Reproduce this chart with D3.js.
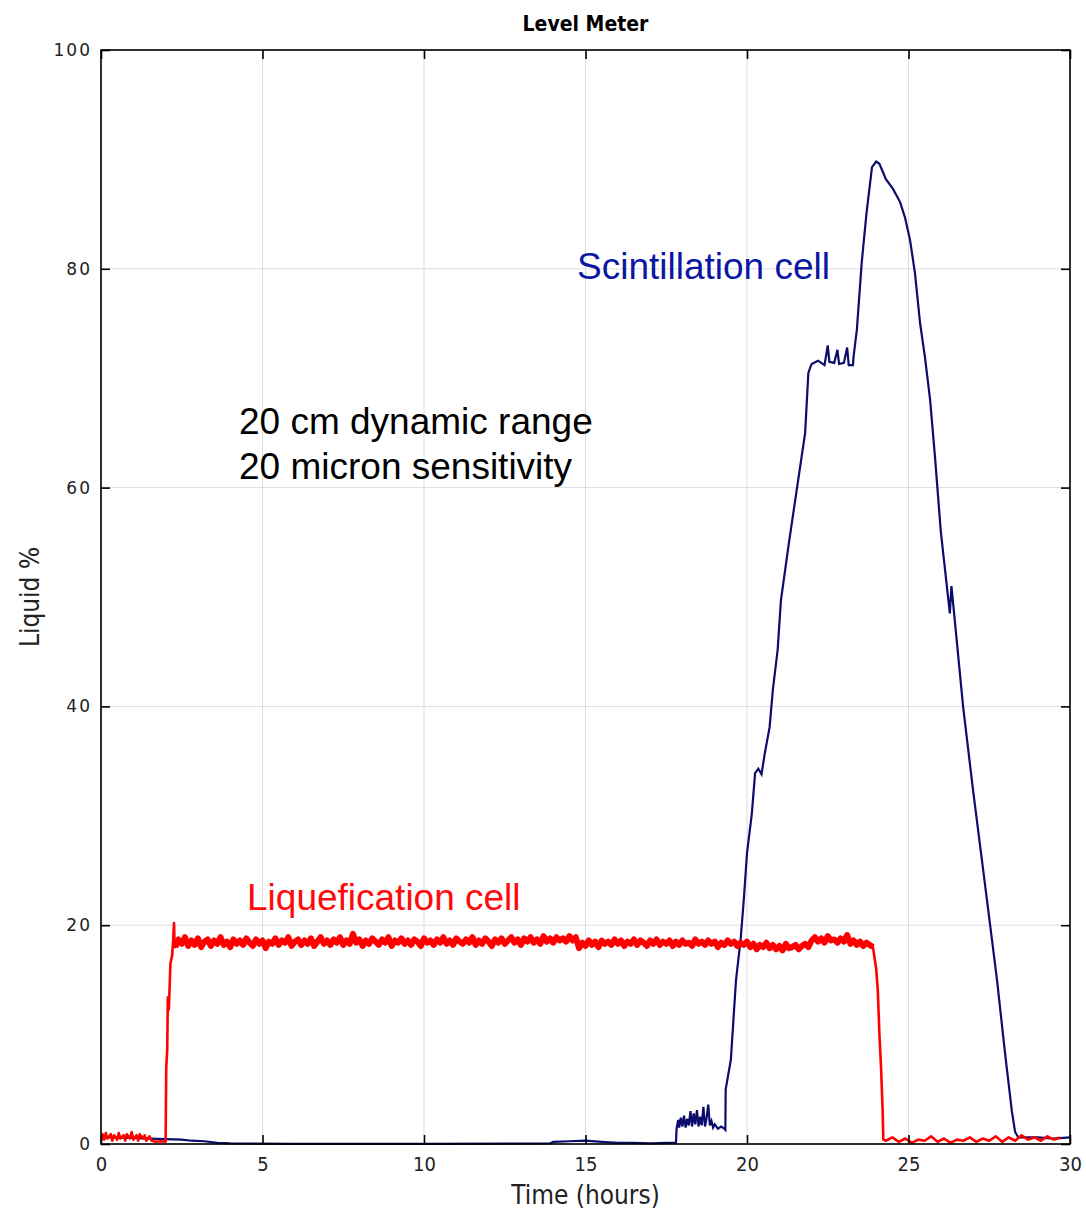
<!DOCTYPE html>
<html>
<head>
<meta charset="utf-8">
<script src="https://cdn.jsdelivr.net/npm/d3@7"></script>
<style>
  body { margin: 0; background: #fff; }
  .grid line { stroke: #dddddd; stroke-width: 1; }
  .tick-y text { font-family: "DejaVu Sans", sans-serif; font-size: 17px; fill: #222; }
  .tick-x text { font-family: "DejaVu Sans Condensed", "DejaVu Sans", sans-serif; font-size: 20px; fill: #222; }
  .note { font-family: "Liberation Sans", Arial, sans-serif; font-size: 37px; }
</style>
</head>
<body>
<svg width="1086" height="1213"></svg>
<script>
// x ticks and y ticks
var xTicks = [0, 5, 10, 15, 20, 25, 30];
var yTicks = [0, 20, 40, 60, 80, 100];

// scintillation cell level, [hours, %]
var scint = [
  [0, 0.6], [0.5, 0.6], [1, 0.55], [1.5, 0.5], [2, 0.45], [2.5, 0.4], [2.8, 0.3], [3.2, 0.25],
  [3.6, 0.1], [4, 0.05], [6, 0.02], [10, 0.02], [13.9, 0.05], [14, 0.2], [14.5, 0.25], [15, 0.3],
  [15.5, 0.2], [16, 0.1], [16.5, 0.1], [17, 0.05], [17.5, 0.1], [17.8, 0.1], [17.82, 1.4],
  [17.87, 2.2], [17.9, 1.5], [17.95, 2.4], [18.0, 1.6], [18.05, 2.6], [18.1, 1.5], [18.15, 2.3],
  [18.2, 1.7], [18.25, 3.0], [18.3, 1.6], [18.35, 2.8], [18.4, 1.8], [18.45, 3.1], [18.5, 1.6],
  [18.55, 2.5], [18.6, 1.7], [18.65, 3.4], [18.7, 1.6], [18.75, 2.4], [18.8, 3.6], [18.85, 1.7],
  [18.9, 2.1], [18.95, 1.5], [19.0, 1.8], [19.1, 1.4], [19.2, 1.6], [19.3, 1.4], [19.33, 1.3],
  [19.34, 5], [19.5, 7.7], [19.66, 15], [19.8, 18.6],
  [19.9, 22.3], [20.0, 26.6], [20.15, 30.2], [20.25, 33.9], [20.35, 34.3], [20.45, 33.8],
  [20.55, 35.7], [20.7, 38.1], [20.8, 41.5], [20.95, 45.2], [21.05, 49.7], [21.3, 55], [21.5, 59],
  [21.8, 65], [21.9, 70.5], [22.0, 71.3], [22.2, 71.6], [22.4, 71.2], [22.5, 73.0], [22.55, 71.5],
  [22.7, 71.4], [22.8, 72.6], [22.85, 71.3], [23.0, 71.4], [23.1, 72.8], [23.15, 71.2], [23.28, 71.2],
  [23.3, 72], [23.4, 74.4], [23.55, 80.5], [23.7, 85.1], [23.87, 89.3], [24.0, 89.8], [24.1, 89.6],
  [24.3, 88.2], [24.52, 87.3], [24.74, 86.1], [24.89, 84.7], [25.05, 82.6], [25.2, 79.6],
  [25.36, 75], [25.51, 71.9], [25.67, 68], [25.82, 62.8], [26.0, 56], [26.28, 48.5], [26.33, 51],
  [26.69, 40], [27.0, 32.3], [27.43, 22.3], [27.74, 15], [28.0, 8], [28.2, 3], [28.3, 1.1],
  [28.4, 0.6], [29, 0.6], [29.5, 0.5], [30, 0.6]
];

// liquefication cell: start-up section, [hours, %]
var liqStart = [
  [0, 0.3], [0.05, 0.9], [0.1, 0.4], [0.15, 1.0], [0.2, 0.5], [0.3, 0.9], [0.35, 0.3], [0.4, 0.8],
  [0.5, 0.4], [0.55, 1.0], [0.6, 0.5], [0.7, 0.8], [0.75, 0.3], [0.8, 0.9], [0.9, 0.5], [0.95, 1.1],
  [1.0, 0.4], [1.1, 0.8], [1.15, 0.3], [1.2, 0.9], [1.3, 0.5], [1.35, 0.8], [1.4, 0.3], [1.5, 0.7],
  [1.57, 0.3], [1.7, 0.2], [1.85, 0.25], [2.0, 0.2], [2.02, 7], [2.05, 8.6], [2.07, 13.4],
  [2.1, 12.3], [2.15, 16.5], [2.2, 17.2], [2.23, 18.4], [2.26, 20.2], [2.28, 18.1]
];

// liquefication cell plateau, sampled every 0.1 h from 2.3 h
var liqPlateauStart = 2.3, liqPlateauStep = 0.1;
var liqPlateau = [
  18.0, 18.7, 18.3, 18.9, 18.1, 18.6, 18.2, 18.8, 18.0, 18.5,
  18.7, 18.1, 18.6, 18.3, 18.9, 18.2, 18.5, 18.0, 18.7, 18.3,
  18.6, 18.2, 18.8, 18.4, 18.1, 18.7, 18.3, 18.6, 17.9, 18.5,
  18.3, 18.8, 18.2, 18.6, 18.4, 18.9, 18.1, 18.5, 18.7, 18.2,
  18.6, 18.3, 18.8, 18.1, 18.5, 18.9, 18.3, 18.6, 18.2, 18.7,
  18.4, 18.9, 18.2, 18.6, 18.3, 19.2, 18.4, 18.7, 18.1, 18.6,
  18.3, 18.8, 18.5, 18.2, 18.7, 18.4, 18.9, 18.1, 18.6, 18.4,
  18.8, 18.3, 18.6, 18.2, 18.7, 18.5, 18.1, 18.8, 18.4, 18.6,
  18.2, 18.7, 18.4, 18.9, 18.3, 18.6, 18.2, 18.8, 18.5, 18.3,
  18.7, 18.4, 18.9, 18.2, 18.6, 18.3, 18.8, 18.5, 18.1, 18.7,
  18.4, 18.8, 18.3, 18.6, 18.9, 18.4, 18.7, 18.2, 18.8, 18.5,
  18.9, 18.4, 18.7, 18.3, 19.0, 18.5, 18.8, 18.4, 18.9, 18.6,
  18.8, 18.5, 19.0, 18.6, 18.9,
  17.9, 18.4, 18.1, 18.6, 18.2, 18.5, 18.0, 18.6, 18.3, 18.5,
  18.2, 18.7, 18.3, 18.6, 18.1, 18.5, 18.3, 18.7, 18.2, 18.6,
  18.4, 18.1, 18.6, 18.3, 18.7, 18.2, 18.5, 18.3, 18.6, 18.1,
  18.5, 18.2, 18.6, 18.3, 18.4, 18.1, 18.7, 18.3, 18.5, 18.2,
  18.6, 18.3, 18.5, 18.0, 18.4, 18.2, 18.6, 18.3, 18.5, 18.1,
  18.4, 18.2, 18.5, 18.0, 18.3, 17.8, 18.2, 18.0, 18.4, 17.9,
  18.2, 17.8, 18.1, 17.7, 18.3, 17.9, 18.0, 18.2, 17.8, 18.1,
  18.3, 18.0, 18.6, 18.9, 18.5, 18.8, 18.4, 19.0, 18.6, 18.7,
  18.4, 18.8, 18.5, 19.1, 18.3, 18.6, 18.2, 18.5, 18.1, 18.4,
  18.2, 18.0
];

// liquefication cell drain, [hours, %]
var liqFall = [
  [24.0, 16], [24.05, 14], [24.1, 10], [24.15, 7], [24.2, 3], [24.22, 0.4]
];

// liquefication cell after drain, sampled every 0.2 h from 24.3 h
var liqTailStart = 24.3, liqTailStep = 0.2;
var liqTail = [
  0.3, 0.6, 0.2, 0.5, 0.1, 0.4, 0.3, 0.7, 0.2, 0.5,
  0.1, 0.4, 0.3, 0.6, 0.2, 0.5, 0.3, 0.7, 0.2, 0.6,
  0.3, 0.8, 0.4, 0.6, 0.3, 0.7, 0.4, 0.6
];

var margin = { top: 50, right: 16, bottom: 69, left: 101 },
  width = 1086 - margin.left - margin.right,
  height = 1213 - margin.top - margin.bottom;

var svg = d3.select('svg');
svg.append('rect').attr('width', 1086).attr('height', 1213).attr('fill', '#fff');

var g = svg.append('g')
  .attr('transform', 'translate(' + margin.left + ',' + margin.top + ')');

var x = d3.scaleLinear().domain([0, 30]).range([0, width]);
var y = d3.scaleLinear().domain([0, 100]).range([height, 0]);

// grid
var grid = g.append('g').attr('class', 'grid');
grid.selectAll('.gx').data(xTicks).enter().append('line')
  .attr('x1', function (d) { return x(d); }).attr('x2', function (d) { return x(d); })
  .attr('y1', 0).attr('y2', height);
grid.selectAll('.gy').data(yTicks).enter().append('line')
  .attr('y1', function (d) { return y(d); }).attr('y2', function (d) { return y(d); })
  .attr('x1', 0).attr('x2', width);

// build series
var plateau = liqPlateau.map(function (v, i) { return [liqPlateauStart + i * liqPlateauStep, v]; });
var liq = liqStart.concat(plateau, liqFall);
liqTail.forEach(function (v, i) { liq.push([liqTailStart + i * liqTailStep, v]); });

var line = d3.line()
  .x(function (d) { return x(d[0]); })
  .y(function (d) { return y(d[1]); });

g.append('path').datum(scint)
  .attr('d', line).attr('fill', 'none')
  .attr('stroke', '#0c0c6c').attr('stroke-width', 2.2);

g.append('path').datum(liq)
  .attr('d', line).attr('fill', 'none')
  .attr('stroke', '#ff0000').attr('stroke-width', 2.6)
  .attr('stroke-linejoin', 'round');

// the noisy plateau reads as a thick band
g.append('path').datum(plateau)
  .attr('d', line).attr('fill', 'none')
  .attr('stroke', '#ff0000').attr('stroke-width', 6)
  .attr('stroke-linejoin', 'round');

// frame with inward ticks
g.append('rect').attr('width', width).attr('height', height)
  .attr('fill', 'none').attr('stroke', '#000').attr('stroke-width', 1.6);

var tickLen = 9;
g.append('g').attr('transform', 'translate(0,' + height + ')')
  .call(d3.axisBottom(x).tickValues(xTicks).tickSize(-tickLen).tickPadding(13))
  .attr('class', 'tick-x')
  .call(function (a) { a.select('.domain').remove(); a.selectAll('line').attr('stroke', '#000').attr('stroke-width', 1.6); });
g.append('g')
  .call(d3.axisTop(x).tickValues(xTicks).tickSize(-tickLen).tickFormat(''))
  .call(function (a) { a.select('.domain').remove(); a.selectAll('line').attr('stroke', '#000').attr('stroke-width', 1.6); });
g.append('g')
  .call(d3.axisLeft(y).tickValues(yTicks).tickSize(-tickLen).tickPadding(11))
  .attr('class', 'tick-y')
  .call(function (a) {
    a.select('.domain').remove();
    a.selectAll('line').attr('stroke', '#000').attr('stroke-width', 1.6);
    a.selectAll('text').attr('x', -11).attr('letter-spacing', '2px').attr('dx', '2px');
  });
g.append('g').attr('transform', 'translate(' + width + ',0)')
  .call(d3.axisRight(y).tickValues(yTicks).tickSize(-tickLen).tickFormat(''))
  .call(function (a) { a.select('.domain').remove(); a.selectAll('line').attr('stroke', '#000').attr('stroke-width', 1.6); });

// titles
svg.append('text')
  .attr('x', margin.left + width / 2).attr('y', 31)
  .attr('text-anchor', 'middle')
  .style('font-family', '"DejaVu Sans Condensed", "DejaVu Sans", sans-serif')
  .style('font-weight', 'bold').style('font-size', '21px')
  .text('Level Meter');

svg.append('text')
  .attr('x', margin.left + width / 2).attr('y', 1204)
  .attr('text-anchor', 'middle')
  .style('font-family', '"DejaVu Sans Condensed", "DejaVu Sans", sans-serif')
  .style('font-size', '26px').style('fill', '#222')
  .text('Time (hours)');

svg.append('text')
  .attr('transform', 'translate(39,' + (margin.top + height / 2) + ') rotate(-90)')
  .attr('text-anchor', 'middle')
  .style('font-family', '"DejaVu Sans Condensed", "DejaVu Sans", sans-serif')
  .style('font-size', '26px').style('fill', '#222')
  .text('Liquid %');

// annotations
svg.append('text').attr('class', 'note')
  .attr('x', 577).attr('y', 279).attr('fill', '#0b17a3')
  .text('Scintillation cell');
svg.append('text').attr('class', 'note')
  .attr('x', 247).attr('y', 910).attr('fill', '#ff0a0a')
  .text('Liquefication cell');
svg.append('text').attr('class', 'note')
  .attr('x', 239).attr('y', 434).attr('fill', '#000')
  .text('20 cm dynamic range');
svg.append('text').attr('class', 'note')
  .attr('x', 239).attr('y', 479).attr('fill', '#000')
  .text('20 micron sensitivity');
</script>
</body>
</html>
